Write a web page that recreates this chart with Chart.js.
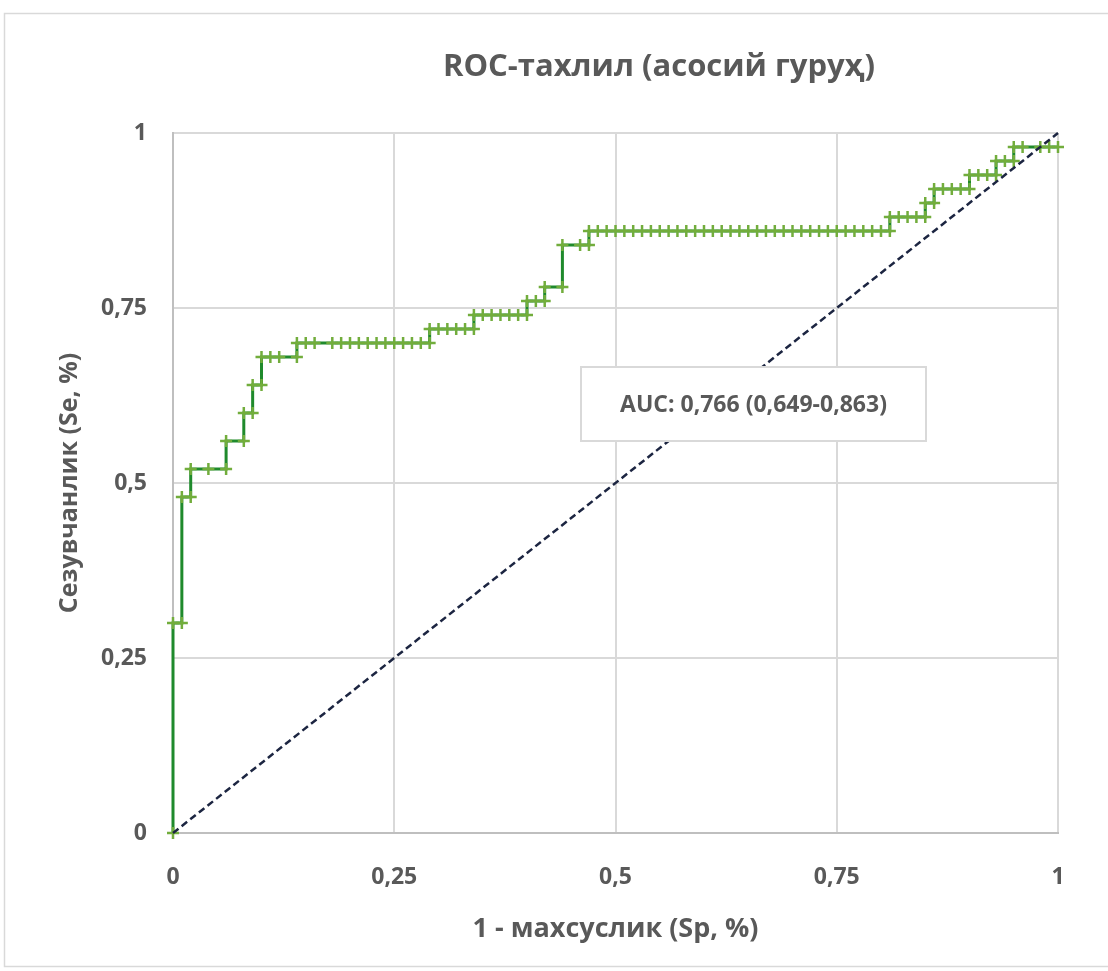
<!DOCTYPE html>
<html>
<head>
<meta charset="utf-8">
<script src="https://cdn.jsdelivr.net/npm/chart.js@4/dist/chart.umd.min.js"></script>
<style>
  html, body { margin: 0; padding: 0; background: #ffffff; }
  #wrap { position: relative; width: 1108px; height: 971px; }
  canvas { display: block; }
</style>
</head>
<body>
<div id="wrap"><canvas id="c" width="1108" height="971"></canvas></div>
<script>
// ---- Data ----
const chartTitle = 'ROC-тахлил (асосий гуруҳ)';
const xAxisTitle = '1 - махсуслик (Sp, %)';
const yAxisTitle = 'Сезувчанлик (Se, %)';
const aucLabel = 'AUC: 0,766 (0,649-0,863)';
const tickValues = [0, 0.25, 0.5, 0.75, 1];
const tickLabels = ['0', '0,25', '0,5', '0,75', '1'];

// ROC curve points: 1 - specificity (x) and sensitivity (y)
const rocFpr = [
  0, 0, 0.01, 0.01, 0.02, 0.02, 0.04, 0.06, 0.06, 0.08, 0.08, 0.09, 0.09, 0.10, 0.10,
  0.11, 0.12, 0.14, 0.14, 0.15, 0.16, 0.18, 0.19, 0.20, 0.21, 0.22, 0.23, 0.24, 0.25,
  0.26, 0.27, 0.28, 0.29, 0.29, 0.30, 0.31, 0.32, 0.33, 0.34, 0.34, 0.35, 0.36, 0.37,
  0.38, 0.39, 0.40, 0.40, 0.41, 0.42, 0.42, 0.44, 0.44, 0.46, 0.47, 0.47,
  0.48, 0.49, 0.50, 0.51, 0.52, 0.53, 0.54, 0.55, 0.56, 0.57, 0.58, 0.59, 0.60,
  0.61, 0.62, 0.63, 0.64, 0.65, 0.66, 0.67, 0.68, 0.69, 0.70, 0.71, 0.72, 0.73,
  0.74, 0.75, 0.76, 0.77, 0.78, 0.79, 0.80, 0.81, 0.81, 0.82, 0.83, 0.84, 0.85,
  0.85, 0.86, 0.86, 0.87, 0.88, 0.89, 0.90, 0.90, 0.91, 0.92, 0.93, 0.93, 0.94,
  0.95, 0.95, 0.96, 0.98, 0.99, 1.00
];
const rocTpr = [
  0, 0.30, 0.30, 0.48, 0.48, 0.52, 0.52, 0.52, 0.56, 0.56, 0.60, 0.60, 0.64, 0.64, 0.68,
  0.68, 0.68, 0.68, 0.70, 0.70, 0.70, 0.70, 0.70, 0.70, 0.70, 0.70, 0.70, 0.70, 0.70,
  0.70, 0.70, 0.70, 0.70, 0.72, 0.72, 0.72, 0.72, 0.72, 0.72, 0.74, 0.74, 0.74, 0.74,
  0.74, 0.74, 0.74, 0.76, 0.76, 0.76, 0.78, 0.78, 0.84, 0.84, 0.84, 0.86,
  0.86, 0.86, 0.86, 0.86, 0.86, 0.86, 0.86, 0.86, 0.86, 0.86, 0.86, 0.86, 0.86,
  0.86, 0.86, 0.86, 0.86, 0.86, 0.86, 0.86, 0.86, 0.86, 0.86, 0.86, 0.86, 0.86,
  0.86, 0.86, 0.86, 0.86, 0.86, 0.86, 0.86, 0.86, 0.88, 0.88, 0.88, 0.88, 0.88,
  0.90, 0.90, 0.92, 0.92, 0.92, 0.92, 0.92, 0.94, 0.94, 0.94, 0.94, 0.96, 0.96,
  0.96, 0.98, 0.98, 0.98, 0.98, 0.98
];

// Reference (chance) line
const diagX = [0, 1];
const diagY = [0, 1];

// ---- Build chart ----
const rocPoints = rocFpr.map((x, i) => ({ x: x, y: rocTpr[i] }));
const diagPoints = diagX.map((x, i) => ({ x: x, y: diagY[i] }));

const FONT = "'Open Sans', 'Noto Sans', 'DejaVu Sans', sans-serif";
const TEXT = '#595959';

const decorPlugin = {
  id: 'decor',
  beforeDraw(chart) {
    const ctx = chart.ctx;
    ctx.save();
    ctx.fillStyle = '#ffffff';
    ctx.fillRect(0, 0, chart.width, chart.height);
    ctx.strokeStyle = '#d9d9d9';
    ctx.lineWidth = 1.5;
    ctx.strokeRect(4.5, 13.5, 1120, 953);
    ctx.restore();
  },
  afterDraw(chart) {
    const ctx = chart.ctx;
    ctx.save();
    // Title
    ctx.fillStyle = TEXT;
    ctx.font = "bold 31px " + FONT;
    ctx.textAlign = 'center';
    ctx.textBaseline = 'middle';
    ctx.fillText(chartTitle, 659, 67);
    // AUC box
    const bx = 581, by = 367, bw = 345, bh = 74;
    ctx.fillStyle = '#ffffff';
    ctx.fillRect(bx, by, bw, bh);
    ctx.strokeStyle = '#d9d9d9';
    ctx.lineWidth = 2;
    ctx.strokeRect(bx, by, bw, bh);
    ctx.fillStyle = TEXT;
    ctx.font = "bold 23px " + FONT;
    ctx.fillText(aucLabel, bx + bw / 2, by + bh / 2 + 1);
    ctx.restore();
  }
};

new Chart(document.getElementById('c'), {
  type: 'line',
  data: {
    datasets: [
      {
        label: 'diag',
        data: diagPoints,
        borderColor: '#1c2541',
        borderWidth: 2.5,
        borderDash: [7, 4],
        pointRadius: 0,
        fill: false,
        tension: 0,
        clip: false
      },
      {
        label: 'ROC',
        data: rocPoints,
        borderColor: '#1f8a2c',
        borderWidth: 3,
        pointStyle: 'cross',
        pointRadius: 6,
        pointBorderWidth: 2.5,
        pointBorderColor: '#72ad3c',
        pointBackgroundColor: '#72ad3c',
        fill: false,
        tension: 0,
        clip: false
      }
    ]
  },
  options: {
    responsive: false,
    animation: false,
    devicePixelRatio: 1,
    layout: { padding: { top: 133, right: 50, left: 0, bottom: 0 } },
    plugins: {
      legend: { display: false },
      title: { display: false },
      tooltip: { enabled: false }
    },
    scales: {
      x: {
        type: 'linear',
        min: 0, max: 1,
        afterBuildTicks(scale) { scale.ticks = tickValues.map(v => ({ value: v })); },
        afterFit(scale) { scale.height = 138; },
        grid: { color: '#d9d9d9', lineWidth: 2, drawTicks: false },
        border: { color: '#bfbfbf', width: 2 },
        ticks: {
          padding: 31,
          color: TEXT,
          font: { family: FONT, size: 23, weight: 'bold' },
          callback(v) { const i = tickValues.indexOf(v); return i >= 0 ? tickLabels[i] : ''; }
        },
        title: {
          display: true,
          text: xAxisTitle,
          color: TEXT,
          font: { family: FONT, size: 27, weight: 'bold' },
          padding: { top: 0, bottom: 25 }
        }
      },
      y: {
        type: 'linear',
        min: 0, max: 1,
        afterBuildTicks(scale) { scale.ticks = tickValues.map(v => ({ value: v })); },
        afterFit(scale) { scale.width = 173; },
        grid: { color: '#d9d9d9', lineWidth: 2, drawTicks: false },
        border: { color: '#bfbfbf', width: 2 },
        ticks: {
          padding: 26,
          color: TEXT,
          font: { family: FONT, size: 23, weight: 'bold' },
          callback(v) { const i = tickValues.indexOf(v); return i >= 0 ? tickLabels[i] : ''; }
        },
        title: {
          display: true,
          text: yAxisTitle,
          color: TEXT,
          font: { family: FONT, size: 25, weight: 'bold' },
          padding: { top: 55, bottom: 0 }
        }
      }
    }
  },
  plugins: [decorPlugin]
});
</script>
</body>
</html>
